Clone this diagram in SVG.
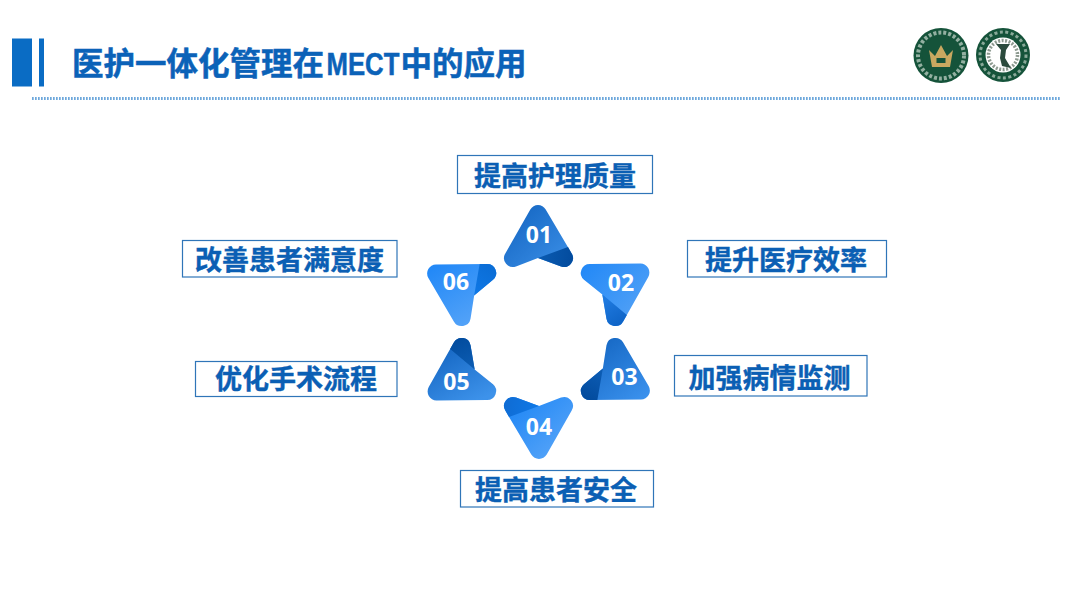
<svg xmlns="http://www.w3.org/2000/svg" xmlns:xlink="http://www.w3.org/1999/xlink" width="1080" height="608" viewBox="0 0 1080 608">
<style>
.box{fill:#fff;stroke:#2f75b8;stroke-width:1.2}
.lbl{font-family:"Noto Sans CJK SC","Liberation Sans",sans-serif;font-weight:700;font-size:27px;fill:#0b5fb4;stroke:#0b5fb4;stroke-width:.4;text-anchor:middle}
.num{font-family:"Open Sans","Noto Sans",sans-serif;font-weight:700;font-size:23px;fill:#fff;text-anchor:middle}
.ttl{font-family:"Noto Sans CJK SC","Liberation Sans",sans-serif;font-weight:700;font-size:31.5px;fill:#0b62b8;stroke:#0b62b8;stroke-width:.5}
</style>
<defs>
<path id="tri" d="M530.300 209.400A9 9 0 0 1 545.700 209.400L571.700 253.400A9 9 0 0 1 561 266.500L538 258L516 266.500A9 9 0 0 1 505.300 253.400Z"/>
<path id="flap" d="M538 258L568 247L571.700 253.400A9 9 0 0 1 561 266.500Z"/>
<linearGradient id="g1" gradientUnits="userSpaceOnUse" x1="515" y1="210" x2="565" y2="265"><stop offset="0" stop-color="#1668c4"/><stop offset="1" stop-color="#3a8ee6"/></linearGradient>
<linearGradient id="f1" gradientUnits="userSpaceOnUse" x1="540" y1="258" x2="575" y2="262"><stop offset="0" stop-color="#0a5ab0"/><stop offset="1" stop-color="#024a9c"/></linearGradient>
<linearGradient id="g2" gradientUnits="userSpaceOnUse" x1="585" y1="265" x2="640" y2="320" gradientTransform="rotate(-60 538.5 332)"><stop offset="0" stop-color="#2389f7"/><stop offset="1" stop-color="#54a2f6"/></linearGradient>
<linearGradient id="f2" gradientUnits="userSpaceOnUse" x1="602" y1="300" x2="620" y2="328" gradientTransform="rotate(-60 538.5 332)"><stop offset="0" stop-color="#1f7ae0"/><stop offset="1" stop-color="#0d62c4"/></linearGradient>
<linearGradient id="g3" gradientUnits="userSpaceOnUse" x1="600" y1="340" x2="645" y2="400" gradientTransform="rotate(-120 538.5 332)"><stop offset="0" stop-color="#1668c4"/><stop offset="1" stop-color="#3b92ee"/></linearGradient>
<linearGradient id="f3" gradientUnits="userSpaceOnUse" x1="600" y1="370" x2="585" y2="400" gradientTransform="rotate(-120 538.5 332)"><stop offset="0" stop-color="#0c5cb4"/><stop offset="1" stop-color="#024a9c"/></linearGradient>
<linearGradient id="g4" gradientUnits="userSpaceOnUse" x1="515" y1="405" x2="560" y2="455" gradientTransform="rotate(-180 538.5 332)"><stop offset="0" stop-color="#2288f5"/><stop offset="1" stop-color="#56a4f8"/></linearGradient>
<linearGradient id="f4" gradientUnits="userSpaceOnUse" x1="505" y1="400" x2="538" y2="405" gradientTransform="rotate(-180 538.5 332)"><stop offset="0" stop-color="#0f6cd4"/><stop offset="1" stop-color="#0f78e6"/></linearGradient>
<linearGradient id="g5" gradientUnits="userSpaceOnUse" x1="450" y1="345" x2="480" y2="400" gradientTransform="rotate(-240 538.5 332)"><stop offset="0" stop-color="#1668c4"/><stop offset="1" stop-color="#3d92ea"/></linearGradient>
<linearGradient id="f5" gradientUnits="userSpaceOnUse" x1="470" y1="368" x2="458" y2="338" gradientTransform="rotate(-240 538.5 332)"><stop offset="0" stop-color="#0c5cb2"/><stop offset="1" stop-color="#024c9e"/></linearGradient>
<linearGradient id="g6" gradientUnits="userSpaceOnUse" x1="440" y1="265" x2="475" y2="325" gradientTransform="rotate(-300 538.5 332)"><stop offset="0" stop-color="#2389f7"/><stop offset="1" stop-color="#56a4f8"/></linearGradient>
<linearGradient id="f6" gradientUnits="userSpaceOnUse" x1="475" y1="295" x2="495" y2="265" gradientTransform="rotate(-300 538.5 332)"><stop offset="0" stop-color="#0f78e6"/><stop offset="1" stop-color="#0a6cd4"/></linearGradient>
</defs>
<rect width="1080" height="608" fill="#fff"/>
<g id="header">
<rect x="12" y="38.500" width="20" height="48" fill="#0a6cc4"/>
<rect x="39" y="38.500" width="5" height="48" fill="#0a6cc4"/>
<text class="ttl" y="75" x="72">医护一体化管理在</text>
<text class="ttl" transform="translate(326.500 75) scale(.83 1)" style="font-family:'Liberation Sans',sans-serif;font-size:31px">MECT</text>
<text class="ttl" y="75" x="400.500">中的应用</text>
<line x1="32" y1="98.500" x2="1060" y2="98.500" stroke="#6ea8dc" stroke-width="3" stroke-dasharray="1.700 1.300"/>
</g>
<g id="logo-1">
<circle cx="941" cy="55.500" r="27.500" fill="#15533a"/>
<circle cx="941" cy="55.500" r="23" fill="none" stroke="#e8efe6" stroke-width="4" stroke-dasharray="3 2" opacity=".6"/>
<circle cx="941" cy="55.500" r="19" fill="#15533a"/>
<path d="M929 50L935 56L941 45L947 56L953 50L950 67L932 67Z" fill="#c9a860"/>
<rect x="936.500" y="58" width="9" height="5" fill="#15533a"/>
</g>
<g id="logo-2">
<circle cx="1003" cy="55" r="27" fill="#15533a"/>
<circle cx="1003" cy="55" r="23" fill="none" stroke="#e8efe6" stroke-width="3" stroke-dasharray="3 2.500" opacity=".55"/>
<circle cx="1003" cy="55" r="17.500" fill="#fff"/>
<circle cx="1003" cy="55" r="14.500" fill="none" stroke="#8d9a90" stroke-width="3.500" stroke-dasharray="2 1.500"/>
<path d="M996 44L1010 44L1006 50L1005 58L1011 68L1002 66L1000 58L1001 50Z" fill="#2b4b3d"/>
</g>
<g id="connectors"></g>
<g id="node-01"><use href="#tri" fill="url(#g1)"/><use href="#flap" fill="url(#f1)"/><text class="num" x="539" y="243">01</text></g>
<g id="node-02"><g transform="rotate(60 538.5 332)"><use href="#tri" fill="url(#g2)"/><use href="#flap" fill="url(#f2)"/></g><text class="num" x="621" y="291">02</text></g>
<g id="node-03"><g transform="rotate(120 538.5 332)"><use href="#tri" fill="url(#g3)"/><use href="#flap" fill="url(#f3)"/></g><text class="num" x="624.500" y="385">03</text></g>
<g id="node-04"><g transform="rotate(180 538.5 332)"><use href="#tri" fill="url(#g4)"/><use href="#flap" fill="url(#f4)"/></g><text class="num" x="539" y="435">04</text></g>
<g id="node-05"><g transform="rotate(240 538.5 332)"><use href="#tri" fill="url(#g5)"/><use href="#flap" fill="url(#f5)"/></g><text class="num" x="456.500" y="390">05</text></g>
<g id="node-06"><g transform="rotate(300 538.5 332)"><use href="#tri" fill="url(#g6)"/><use href="#flap" fill="url(#f6)"/></g><text class="num" x="456" y="290">06</text></g>
<g id="label-1"><rect class="box" x="457.500" y="155.500" width="195" height="38"/><text class="lbl" x="555" y="186">提高护理质量</text></g>
<g id="label-2"><rect class="box" x="687.500" y="240.500" width="199" height="36.500"/><text class="lbl" x="786" y="270">提升医疗效率</text></g>
<g id="label-3"><rect class="box" x="674.500" y="355.500" width="192.500" height="40.500"/><text class="lbl" x="769.500" y="388">加强病情监测</text></g>
<g id="label-4"><rect class="box" x="460.500" y="470.500" width="193" height="36.500"/><text class="lbl" x="556" y="500">提高患者安全</text></g>
<g id="label-5"><rect class="box" x="195.500" y="361.500" width="201.500" height="35"/><text class="lbl" x="296" y="389">优化手术流程</text></g>
<g id="label-6"><rect class="box" x="182.500" y="240.500" width="214.500" height="36.500"/><text class="lbl" x="289.500" y="270">改善患者满意度</text></g>
</svg>
